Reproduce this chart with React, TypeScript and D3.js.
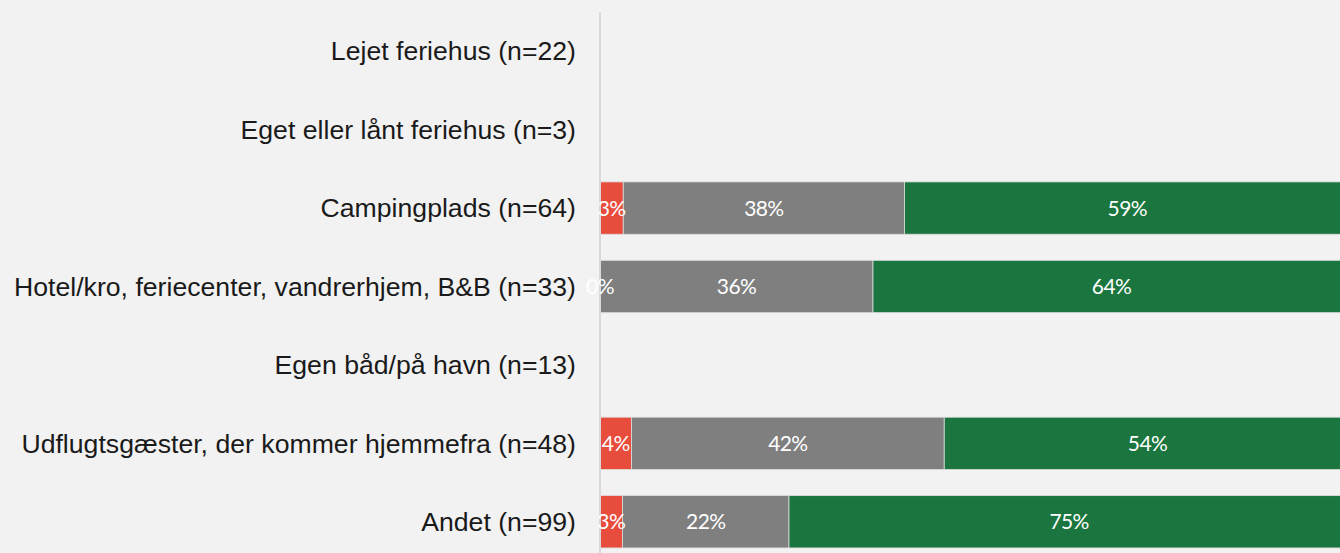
import React, { useEffect, useRef } from 'react';
import * as d3 from 'd3';

// Categories (top to bottom) and shares (%) per group: negative / neutral / positive
const categories = [
  'Lejet feriehus (n=22)',
  'Eget eller lånt feriehus (n=3)',
  'Campingplads (n=64)',
  'Hotel/kro, feriecenter, vandrerhjem, B&B (n=33)',
  'Egen båd/på havn (n=13)',
  'Udflugtsgæster, der kommer hjemmefra (n=48)',
  'Andet (n=99)',
];
const negative = [null, null, 3.1, 0, null, 4.2, 3.0];
const neutral = [null, null, 37.5, 36.4, null, 41.7, 22.2];
const positive = [null, null, 59.4, 63.6, null, 54.2, 74.7];

const colors = ['#e84c3d', '#7f7f7f', '#1a763e'];

const App: React.FC = () => {
  const svgRef = useRef<SVGSVGElement>(null);

  useEffect(() => {
    document.body.style.margin = '0';
    const svg = d3.select(svgRef.current);
    svg.selectAll('*').remove();

    const width = 1340;
    const height = 553;
    const margin = { top: 12, right: -10, bottom: -8, left: 600 };

    svg.append('rect')
      .attr('width', width)
      .attr('height', height)
      .attr('fill', '#f2f2f2');

    // the plot runs a little past the right edge of the picture
    const x = d3.scaleLinear()
      .domain([0, 100])
      .range([margin.left, width - margin.right]);

    const y = d3.scaleBand()
      .domain(categories)
      .range([margin.top, height - margin.bottom])
      .paddingInner(0.333)
      .paddingOuter(0.1665);

    const rows = categories.map((c, i) => ({
      cat: c,
      vals: [negative[i], neutral[i], positive[i]],
    })).filter(r => r.vals[0] !== null);

    const segs: { cat: string; k: number; x0: number; x1: number; v: number }[] = [];
    rows.forEach(r => {
      let acc = 0;
      r.vals.forEach((v, k) => {
        const x0 = acc;
        acc += v as number;
        segs.push({ cat: r.cat, k, x0, x1: acc, v: v as number });
      });
    });

    svg.append('g')
      .selectAll('rect')
      .data(segs.filter(s => s.v > 0))
      .join('rect')
      .attr('x', d => x(d.x0))
      .attr('y', d => y(d.cat)!)
      .attr('width', d => x(d.x1) - x(d.x0))
      .attr('height', y.bandwidth())
      .attr('fill', d => colors[d.k])
      .attr('stroke', '#dcdcdc')
      .attr('stroke-width', 0.8);

    // category axis
    svg.append('line')
      .attr('x1', margin.left)
      .attr('x2', margin.left)
      .attr('y1', margin.top)
      .attr('y2', height)
      .attr('stroke', '#d9d9d9')
      .attr('stroke-width', 2);

    svg.append('g')
      .selectAll('text')
      .data(segs)
      .join('text')
      .attr('x', d => (x(d.x0) + x(d.x1)) / 2)
      .attr('y', d => y(d.cat)! + y.bandwidth() / 2)
      .attr('dy', '0.36em')
      .attr('text-anchor', 'middle')
      .attr('fill', '#ffffff')
      .style('font-family', 'Lato, sans-serif')
      .style('font-size', '21px')
      .style('letter-spacing', '-0.6px')
      .text(d => `${d3.format('.0f')(d.v)}%`);

    // category labels, slightly stretched sideways like the original
    svg.append('g')
      .selectAll('text')
      .data(categories)
      .join('text')
      .attr('transform', d => `translate(${margin.left - 24},${y(d)! + y.bandwidth() / 2}) scale(1.045,1)`)
      .attr('dy', '0.36em')
      .attr('text-anchor', 'end')
      .attr('fill', '#1a1a1a')
      .style('font-family', '"Liberation Sans", Arial, sans-serif')
      .style('font-size', '25.5px')
      .text(d => d);
  }, []);

  return <svg ref={svgRef} width={1340} height={553} style={{ display: 'block' }} />;
};

export default App;
